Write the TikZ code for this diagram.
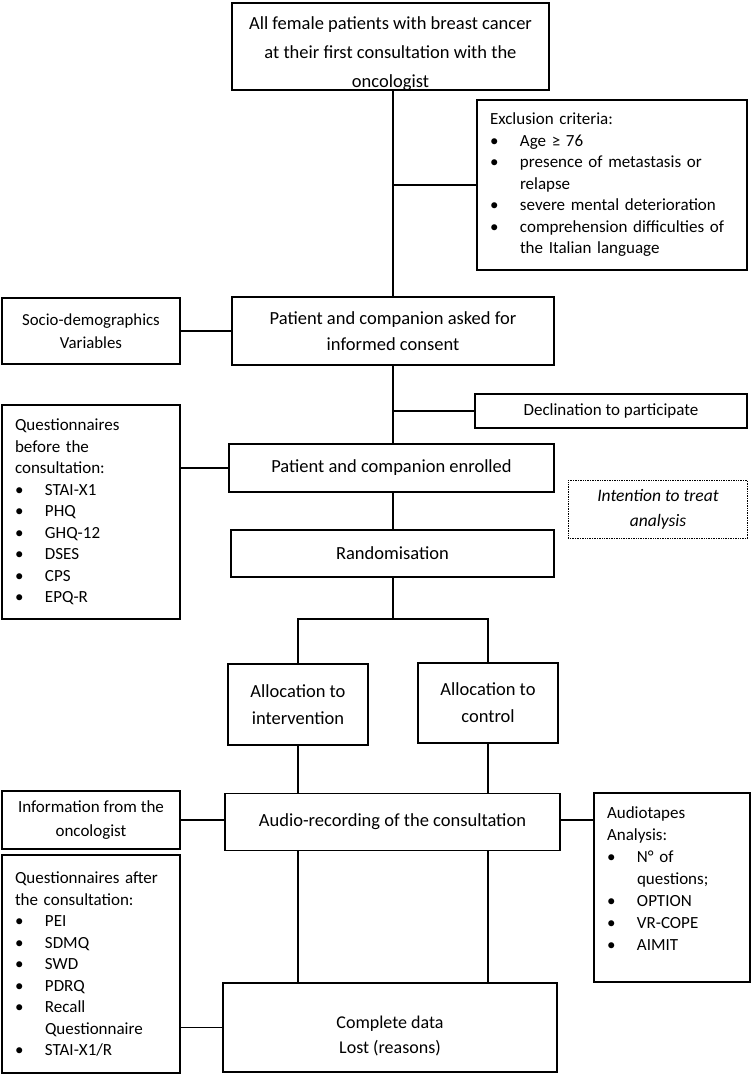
\documentclass[tikz,border=0pt]{standalone}
\usepackage{fontspec}
\setmainfont{Carlito}
\newcommand\bl{\makebox[30pt][l]{\textbullet}}
\newcommand\hg{\hspace*{30pt}}
\newcommand\lowered[2]{\raisebox{#1}[\height][\depth]{\begin{tabular}{@{}c@{}}#2\end{tabular}}}
\begin{document}
\begin{tikzpicture}[x=1pt,y=-1pt,
  box/.style={draw, line width=1.1pt, inner sep=0pt, align=center,
    font=\fontsize{18.5}{26}\selectfont},
  listbox/.style={draw, line width=1.1pt, inner xsep=13pt, inner ysep=0pt, align=left,
    font=\fontsize{17}{21.5}\selectfont},
  link/.style={line width=1.1pt}]
\useasboundingbox (0,0) rectangle (752,1075);
\fill[white] (0,0) rectangle (752,1075);

\node[box, minimum width=317pt, minimum height=87pt, font=\fontsize{18.5}{29}\selectfont] (top) at (390.5,46.5)
  {\lowered{-6pt}{All female patients with breast cancer\\at their first consultation with the\\oncologist}};
\node[listbox, minimum width=270pt, minimum height=170pt, text width=244pt] (excl) at (612,185)
  {Exclusion criteria:\\
   \bl Age ≥ 76\\
   \bl presence of metastasis or\\
   \hg relapse\\
   \bl severe mental deterioration\\
   \bl comprehension difficulties of\\
   \hg the Italian language};
\node[box, minimum width=178pt, minimum height=66pt, font=\fontsize{16.8}{23}\selectfont] (socio) at (91,331)
  {Socio-demographics\\Variables};
\node[box, minimum width=322pt, minimum height=68pt] (consent) at (393,331)
  {Patient and companion asked for\\informed consent};
\node[box, minimum width=272pt, minimum height=34pt, font=\fontsize{17}{21}\selectfont] (decl) at (611,411)
  {Declination to participate};
\node[listbox, minimum width=178pt, minimum height=214pt, text width=152pt] (qbefore) at (91,512)
  {Questionnaires\\before the\\consultation:\\
   \bl STAI-X1\\ \bl PHQ\\ \bl GHQ-12\\ \bl DSES\\ \bl CPS\\ \bl EPQ-R};
\node[box, minimum width=325pt, minimum height=48pt] (enrolled) at (391.5,468)
  {Patient and companion enrolled};
\node[box, draw=none, minimum width=178pt, minimum height=57pt, font=\fontsize{17.5}{25}\selectfont\itshape] (itt) at (658,509.5)
  {Intention to treat\\analysis};
\draw[line width=0.7pt, densely dotted] (itt.north west) rectangle (itt.south east);
\node[box, minimum width=323pt, minimum height=47pt] (rand) at (392.5,553.5)
  {Randomisation};
\node[box, minimum width=140pt, minimum height=81pt, font=\fontsize{18.5}{27}\selectfont] (alloci) at (298,704.5)
  {Allocation to\\intervention};
\node[box, minimum width=140pt, minimum height=80pt, font=\fontsize{18.5}{27}\selectfont] (allocc) at (488,703)
  {Allocation to\\control};
\node[box, minimum width=178pt, minimum height=58pt, font=\fontsize{17}{24}\selectfont] (info) at (91,820)
  {Information from the\\oncologist};
\node[box, minimum width=335pt, minimum height=57pt] (audio) at (392.5,822)
  {Audio-recording of the consultation};
\node[listbox, minimum width=156pt, minimum height=189pt, text width=130pt, font=\fontsize{17}{22}\selectfont] (tapes) at (672,887.5)
  {Audiotapes\\Analysis:\\
   \bl N° of\\ \hg questions;\\ \bl OPTION\\ \bl VR-COPE\\ \bl AIMIT\\[-4pt]\mbox{}};
\node[listbox, minimum width=178pt, minimum height=218pt, text width=152pt] (qafter) at (91,964)
  {Questionnaires after\\the consultation:\\
   \bl PEI\\ \bl SDMQ\\ \bl SWD\\ \bl PDRQ\\ \bl Recall\\ \hg Questionnaire\\ \bl STAI-X1/R};
\node[box, minimum width=334pt, minimum height=89pt, font=\fontsize{18}{25}\selectfont] (complete) at (390,1027.5)
  {\lowered{-8pt}{Complete data\\Lost (reasons)}};

% connectors
\draw[link] (top.south -| consent.north) -- (consent.north);
\draw[link] (excl.west -| consent.north) -- (excl.west);
\draw[link] (socio.east) -- (consent.west);
\draw[link] (consent.south) -- (consent.south |- enrolled.north);
\draw[link] (decl.west -| consent.south) -- (decl.west);
\draw[link] (qbefore.east |- enrolled.west) -- (enrolled.west);
\draw[link] (enrolled.south -| consent.south) -- (rand.north -| consent.south);
\coordinate (split) at (393,619);
\draw[link] (rand.south -| split) -- (split);
\draw[link] (alloci.north) |- (split) -| (allocc.north);
\draw[link] (alloci.south) -- (alloci.south |- audio.north);
\draw[link] (allocc.south) -- (allocc.south |- audio.north);
\draw[link] (info.east) -- (info.east -| audio.west);
\draw[link] (audio.east |- 0,820) -- (tapes.west |- 0,820);
\draw[link] (audio.south -| alloci.south) -- (complete.north -| alloci.south);
\draw[link] (audio.south -| allocc.south) -- (complete.north -| allocc.south);
\draw[link] (qafter.east |- complete.west) -- (complete.west);
\end{tikzpicture}
\end{document}
